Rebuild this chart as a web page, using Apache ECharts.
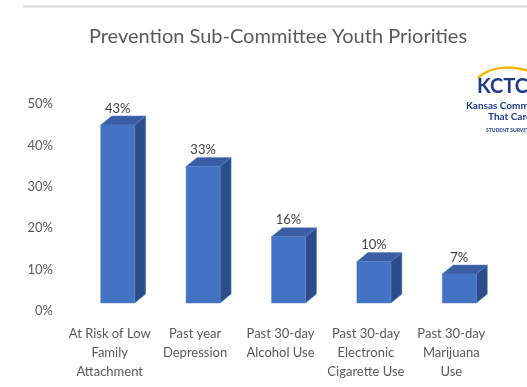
<!DOCTYPE html>
<html>
<head>
<meta charset="utf-8">
<script src="https://cdn.jsdelivr.net/npm/echarts@6/dist/echarts.min.js"></script>
<style>html,body{margin:0;padding:0;background:#fff;}#c{width:527px;height:387px;}</style>
</head>
<body>
<div id="c"></div>
<script>
var categories = ["At Risk of Low\nFamily\nAttachment", "Past year\nDepression", "Past 30-day\nAlcohol Use", "Past 30-day\nElectronic\nCigarette Use", "Past 30-day\nMarijuana\nUse"];
var values = [43, 33, 16, 10, 7];
var yTicks = [0, 10, 20, 30, 40, 50];
var titleText = "Prevention Sub-Committee Youth Priorities";

var FONT = 'Lato, "Open Sans", sans-serif';
var chart = echarts.init(document.getElementById('c'), null, {renderer: 'canvas'});

function renderBar(params, api) {
  var i = api.value(0), v = api.value(1);
  var base = api.coord([i, 0]);
  var top = api.coord([i, v]);
  var bw = 34, dx = 11, dy = -9, ox = 8, oy = -8;
  var x0 = base[0] - bw / 2 + ox, x1 = x0 + bw;
  var yb = base[1] + oy, yt = top[1] + oy;
  return {
    type: 'group',
    children: [
      {type: 'polygon', shape: {points: [[x1, yt], [x1 + dx, yt + dy], [x1 + dx, yb + dy], [x1, yb]]},
       style: {fill: '#2D4C8A', stroke: '#5B7FC2', lineWidth: 0.5}},
      {type: 'polygon', shape: {points: [[x0, yt], [x0 + dx, yt + dy], [x1 + dx, yt + dy], [x1, yt]]},
       style: {fill: '#3A5DA6', stroke: '#5B7FC2', lineWidth: 0.5}},
      {type: 'rect', shape: {x: x0, y: yt, width: bw, height: yb - yt},
       style: {fill: '#4472C4', stroke: '#5B7FC2', lineWidth: 0.5}},
      {type: 'text', style: {text: Math.round(v) + '%', x: x0 + bw / 2, y: yt + dy - 1,
        align: 'center', verticalAlign: 'bottom', fill: '#404040', font: '13px ' + FONT}}
    ]
  };
}

chart.setOption({
  animation: false,
  backgroundColor: '#fff',
  grid: {left: 67, right: 33, top: 104, bottom: 76},
  xAxis: {
    type: 'category', data: categories,
    axisLine: {show: false}, axisTick: {show: false},
    axisLabel: {color: '#595959', fontSize: 13, fontFamily: FONT, lineHeight: 19, margin: 13, interval: 0, verticalAlign: 'top'}
  },
  yAxis: {
    type: 'value', min: yTicks[0], max: yTicks[yTicks.length - 1], interval: 10,
    splitLine: {show: false}, axisLine: {show: false}, axisTick: {show: false},
    axisLabel: {color: '#595959', fontSize: 13, fontFamily: FONT, margin: 14, formatter: '{value}%'}
  },
  series: [{
    type: 'custom',
    renderItem: renderBar,
    data: values.map(function (v, i) { return [i, v]; }),
    encode: {x: 0, y: 1}
  }],
  graphic: [
    {type: 'line', shape: {x1: 23, y1: 6.5, x2: 527, y2: 6.5}, style: {stroke: '#D9D9D9', lineWidth: 2}},
    {type: 'text', style: {text: titleText, x: 278, y: 37, align: 'center', verticalAlign: 'middle',
      fill: '#595959', font: '20px ' + FONT}},
    {type: 'bezierCurve', shape: {x1: 478, y1: 78, cpx1: 490, cpy1: 66, cpx2: 512, cpy2: 65, x2: 532, y2: 72},
      style: {stroke: '#F2B705', lineWidth: 2.5, fill: null}},
    {type: 'text', style: {text: 'KCTC', x: 477, y: 87, align: 'left', verticalAlign: 'middle',
      fill: '#1F3B8C', font: 'bold 20px ' + FONT}},
    {type: 'text', style: {text: 'Kansas Communities', x: 466, y: 106, align: 'left', verticalAlign: 'middle',
      fill: '#1F3B8C', font: 'bold 10px ' + FONT}},
    {type: 'text', style: {text: 'That Cares', x: 488, y: 117, align: 'left', verticalAlign: 'middle',
      fill: '#1F3B8C', font: 'bold 10px ' + FONT}},
    {type: 'text', style: {text: 'STUDENT SURVEY', x: 486, y: 130, align: 'left', verticalAlign: 'middle',
      fill: '#1F3B8C', font: 'bold 5px ' + FONT}}
  ]
});
</script>
</body>
</html>
